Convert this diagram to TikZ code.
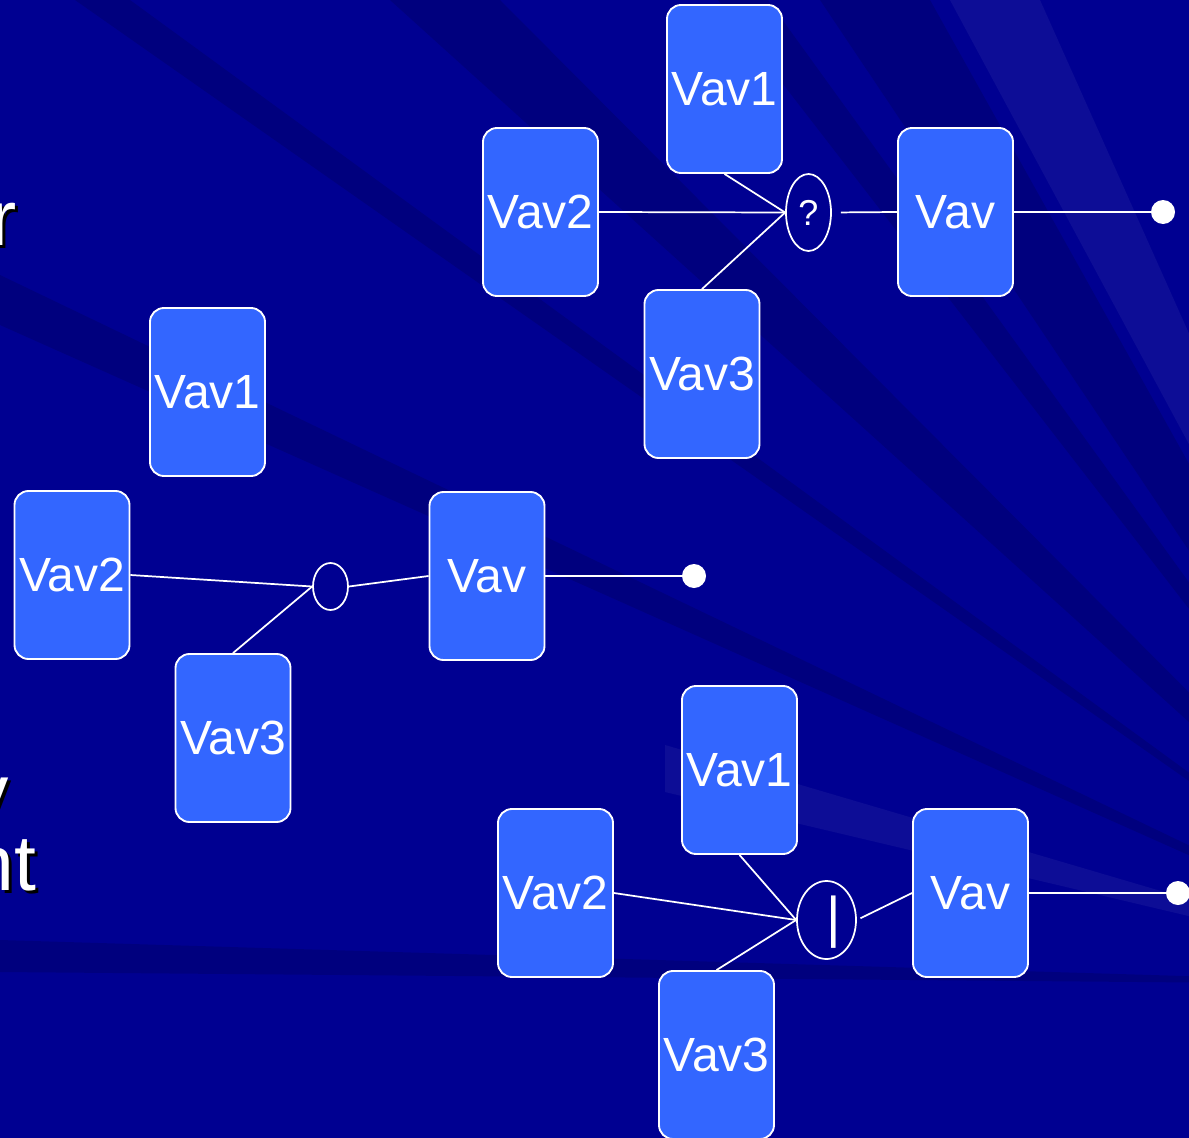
\documentclass[tikz,border=0pt]{standalone}
\usepackage{fontspec}
\setmainfont{Liberation Sans}
\usetikzlibrary{shapes.geometric}
\definecolor{bgblue}{RGB}{0,0,145}
\definecolor{boxblue}{RGB}{51,102,255}
\tikzset{
  vbox/.style={rectangle, rounded corners=10.5pt, draw=white, line width=1.4pt,
    fill=boxblue, minimum width=86.25pt, minimum height=126pt, inner sep=0pt,
    text=white, font=\fontsize{36}{40}\selectfont},
  junc/.style={ellipse, draw=white, line width=1.3pt, inner sep=0pt, text=white},
  wire/.style={draw=white, line width=1.3pt},
  term/.style={circle, fill=white, minimum size=18pt, inner sep=0pt},
  darkray/.style={fill=black, opacity=0.13},
  lightray/.style={fill=white, opacity=0.05},
  side/.style={font=\fontsize{59}{64}\selectfont, anchor=base west, inner sep=0pt},
}
\begin{document}
\begin{tikzpicture}[x=0.75pt,y=-0.75pt]
\useasboundingbox (0,0) rectangle (1189,1138);
\clip (0,0) rectangle (1189,1138);
% background with rays fanning out from the lower right
\fill[bgblue] (0,0) rectangle (1189,1138);
\coordinate (rc) at (1480,985);
\fill[darkray] (rc) -- (75,0) -- (130,0) -- cycle;
\fill[darkray] (rc) -- (390,0) -- (500,0) -- cycle;
\fill[darkray] (rc) -- (718,0) -- (768,0) -- cycle;
\fill[darkray] (rc) -- (820,0) -- (930,0) -- cycle;
\fill[darkray] (rc) -- (0,275) -- (0,325) -- cycle;
\fill[darkray] (rc) -- (0,940) -- (0,972) -- cycle;
\fill[lightray] (rc) -- (950,0) -- (1040,0) -- cycle;
\fill[lightray] (rc) -- (665,745) -- (665,792) -- cycle;

% text running off the left edge, with drop shadow
\node[side, text=black] (rsh) at (-7,248) {r};
\node[side, text=white] (rtx) at (-10,245) {r};
\node[side, text=black] (ysh) at (-28,822) {y};
\node[side, text=white] (ytx) at (-31,819) {y};
\node[side, text=black] (ntsh) at (-27,893) {nt};
\node[side, text=white] (nttx) at (-30,890) {nt};

% upper network
\node[vbox] (t1) at (724.5,89) {Vav1};
\node[vbox] (t2) at (540.5,212) {Vav2};
\node[vbox] (t3) at (702,374) {Vav3};
\node[vbox] (t0) at (955.5,212) {Vav};
\node[junc, minimum width=33.75pt, minimum height=57.75pt,
      font=\fontsize{27}{30}\selectfont] (tj) at (808.5,212.5) {?};
\node[term] (td) at (1163,212) {};
\draw[wire] (t2.east) -- (tj.west);
\draw[wire] (t1.south) -- (tj.west);
\draw[wire] (t3.north) -- (tj.west);
\draw[wire, shorten <=6.75pt] (tj.east) -- (t0.west);
\draw[wire] (t0.east) -- (td);

% middle network
\node[vbox] (m1) at (207.5,392) {Vav1};
\node[vbox] (m2) at (72,575) {Vav2};
\node[vbox] (m3) at (233,738) {Vav3};
\node[vbox] (m0) at (487,576) {Vav};
\node[junc, minimum width=26.25pt, minimum height=35.25pt] (mj) at (330.5,586.5) {};
\node[term] (md) at (694,576) {};
\draw[wire] (m2.east) -- (mj.west);
\draw[wire] (m3.north) -- (mj.west);
\draw[wire] (mj.east) -- (m0.west);
\draw[wire] (m0.east) -- (md);

% lower network
\node[vbox] (b1) at (739.5,770) {Vav1};
\node[vbox] (b2) at (555.5,893) {Vav2};
\node[vbox] (b3) at (716.5,1055) {Vav3};
\node[vbox] (b0) at (970.5,893) {Vav};
\node[junc, minimum width=44.25pt, minimum height=58.5pt] (bj) at (826.5,920) {};
\node[text=white, inner sep=0pt, font=\fontsize{42}{46}\selectfont] (bbar) at (834,922) {|};
\node[term] (bd) at (1178,893) {};
\draw[wire] (b1.south) -- (bj.west);
\draw[wire] (b2.east) -- (bj.west);
\draw[wire] (b3.north) -- (bj.west);
\draw[wire, shorten <=3pt] (bj.east) -- (b0.west);
\draw[wire] (b0.east) -- (bd);
\end{tikzpicture}
\end{document}
